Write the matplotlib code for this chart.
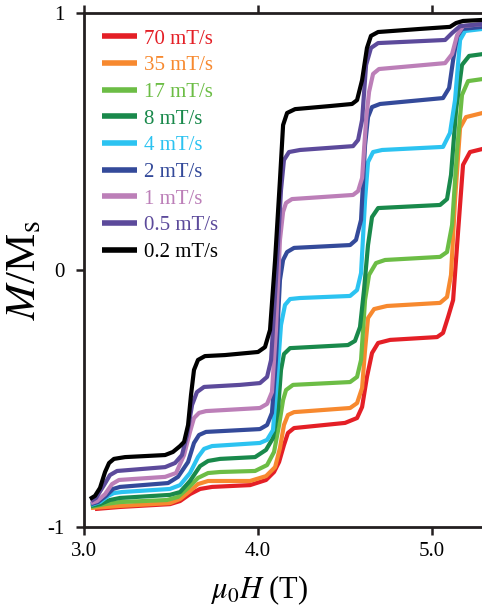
import numpy as np
import matplotlib
matplotlib.use('Agg')
import matplotlib.pyplot as plt

plt.rcParams['font.family'] = ['Liberation Serif', 'DejaVu Serif']
plt.rcParams['mathtext.fontset'] = 'stix'

# sweep rates (legend labels)
labels = ['70 mT/s', '35 mT/s', '17 mT/s', '8 mT/s', '4 mT/s',
          '2 mT/s', '1 mT/s', '0.5 mT/s', '0.2 mT/s']
colors = ['#e41f26', '#f7892f', '#6cbd45', '#19894b', '#2cc3f1',
          '#344a9a', '#bc7fb8', '#5c4a9b', '#000000']

# field (T) and M/Ms
h_70 = [3.063, 3.207, 3.494, 3.552, 3.609, 3.667, 3.736, 3.954, 4.046, 4.092, 4.121, 4.149,
        4.172, 4.207, 4.500, 4.569, 4.598, 4.626, 4.655, 4.690, 4.759, 5.029, 5.063, 5.092,
        5.121, 5.149, 5.178, 5.218, 5.29]
m_70 = [-0.930, -0.922, -0.911, -0.899, -0.872, -0.852, -0.844, -0.837, -0.817, -0.786, -0.747, -0.681,
        -0.634, -0.615, -0.595, -0.576, -0.533, -0.416, -0.323, -0.284, -0.272, -0.261, -0.245, -0.183,
        -0.117, 0.144, 0.409, 0.459, 0.471]

h_35 = [3.040, 3.207, 3.494, 3.552, 3.609, 3.655, 3.713, 3.954, 4.046, 4.098, 4.126, 4.149,
        4.172, 4.207, 4.529, 4.569, 4.598, 4.615, 4.632, 4.667, 4.741, 5.046, 5.086, 5.109,
        5.132, 5.161, 5.195, 5.29]
m_35 = [-0.926, -0.918, -0.907, -0.891, -0.860, -0.833, -0.821, -0.821, -0.802, -0.767, -0.693, -0.603,
        -0.564, -0.553, -0.537, -0.518, -0.459, -0.311, -0.187, -0.152, -0.140, -0.128, -0.105, -0.019,
        0.272, 0.553, 0.595, 0.611]

h_17 = [3.040, 3.121, 3.207, 3.477, 3.540, 3.598, 3.655, 3.713, 3.782, 3.983, 4.052, 4.092,
        4.121, 4.144, 4.161, 4.201, 4.529, 4.569, 4.592, 4.615, 4.638, 4.678, 4.730, 5.046,
        5.086, 5.115, 5.144, 5.172, 5.207, 5.29]
m_17 = [-0.922, -0.911, -0.903, -0.895, -0.883, -0.848, -0.809, -0.790, -0.786, -0.782, -0.759, -0.708,
        -0.603, -0.506, -0.467, -0.447, -0.436, -0.416, -0.350, -0.117, -0.019, 0.027, 0.039, 0.051,
        0.070, 0.175, 0.467, 0.681, 0.735, 0.743]

h_8 = [3.040, 3.092, 3.149, 3.207, 3.494, 3.552, 3.609, 3.667, 3.713, 3.782, 3.983, 4.046,
       4.086, 4.115, 4.132, 4.149, 4.184, 4.517, 4.557, 4.586, 4.609, 4.632, 4.655, 4.690,
       5.046, 5.086, 5.109, 5.138, 5.172, 5.213, 5.29]
m_8 = [-0.918, -0.911, -0.895, -0.887, -0.875, -0.864, -0.821, -0.763, -0.743, -0.735, -0.728, -0.700,
       -0.654, -0.545, -0.389, -0.327, -0.304, -0.292, -0.276, -0.222, -0.078, 0.097, 0.206, 0.241,
       0.253, 0.276, 0.370, 0.623, 0.798, 0.833, 0.840]

h_4 = [3.040, 3.092, 3.138, 3.172, 3.218, 3.494, 3.552, 3.609, 3.655, 3.690, 3.736, 4.011,
       4.052, 4.086, 4.109, 4.132, 4.155, 4.184, 4.241, 4.529, 4.569, 4.592, 4.615, 4.632,
       4.661, 4.713, 5.063, 5.103, 5.132, 5.161, 5.190, 5.29]
m_4 = [-0.914, -0.903, -0.879, -0.868, -0.864, -0.852, -0.837, -0.790, -0.728, -0.696, -0.685, -0.673,
       -0.661, -0.623, -0.428, -0.214, -0.136, -0.113, -0.109, -0.101, -0.078, -0.012, 0.272, 0.420,
       0.459, 0.467, 0.479, 0.533, 0.661, 0.895, 0.930, 0.938]

h_2 = [3.040, 3.080, 3.126, 3.167, 3.207, 3.483, 3.540, 3.598, 3.632, 3.661, 3.701, 4.011,
       4.052, 4.080, 4.103, 4.126, 4.144, 4.167, 4.207, 4.529, 4.563, 4.592, 4.615, 4.632,
       4.655, 4.701, 5.063, 5.098, 5.121, 5.144, 5.172, 5.29]
m_2 = [-0.911, -0.903, -0.879, -0.852, -0.844, -0.829, -0.805, -0.747, -0.673, -0.642, -0.630, -0.619,
       -0.603, -0.556, -0.350, -0.039, 0.039, 0.070, 0.086, 0.097, 0.117, 0.195, 0.486, 0.595,
       0.634, 0.646, 0.669, 0.708, 0.817, 0.907, 0.938, 0.946]

h_1 = [3.040, 3.075, 3.121, 3.161, 3.201, 3.466, 3.529, 3.575, 3.609, 3.632, 3.661, 3.701,
       4.011, 4.052, 4.080, 4.103, 4.126, 4.144, 4.161, 4.195, 4.546, 4.575, 4.598, 4.621,
       4.638, 4.661, 4.695, 5.075, 5.115, 5.144, 5.178, 5.29]
m_1 = [-0.907, -0.899, -0.872, -0.833, -0.817, -0.805, -0.790, -0.720, -0.630, -0.576, -0.556, -0.549,
       -0.537, -0.521, -0.475, -0.233, 0.117, 0.226, 0.261, 0.276, 0.292, 0.307, 0.358, 0.584,
       0.693, 0.763, 0.782, 0.805, 0.840, 0.914, 0.949, 0.957]

h_05 = [3.040, 3.069, 3.115, 3.149, 3.190, 3.466, 3.523, 3.563, 3.592, 3.621, 3.649, 3.690,
        3.897, 4.011, 4.052, 4.075, 4.103, 4.132, 4.149, 4.178, 4.241, 4.546, 4.575, 4.598,
        4.621, 4.649, 4.690, 5.075, 5.115, 5.161, 5.29]
m_05 = [-0.899, -0.887, -0.837, -0.798, -0.782, -0.767, -0.751, -0.720, -0.642, -0.525, -0.475, -0.455,
        -0.447, -0.440, -0.416, -0.350, -0.039, 0.311, 0.428, 0.459, 0.467, 0.482, 0.506, 0.584,
        0.798, 0.864, 0.883, 0.895, 0.922, 0.949, 0.957]

h_02 = [3.034, 3.063, 3.092, 3.121, 3.144, 3.172, 3.236, 3.466, 3.511, 3.552, 3.575, 3.598,
        3.615, 3.632, 3.655, 3.695, 3.810, 4.000, 4.040, 4.069, 4.098, 4.126, 4.144, 4.167,
        4.213, 4.414, 4.540, 4.569, 4.598, 4.626, 4.649, 4.690, 4.931, 5.103, 5.138, 5.178, 5.29]
m_02 = [-0.891, -0.879, -0.848, -0.786, -0.751, -0.735, -0.728, -0.720, -0.708, -0.685, -0.669, -0.603,
        -0.486, -0.389, -0.350, -0.335, -0.331, -0.319, -0.300, -0.233, 0.039, 0.350, 0.564, 0.611,
        0.626, 0.638, 0.646, 0.661, 0.739, 0.864, 0.911, 0.926, 0.938, 0.946, 0.961, 0.969, 0.973]

fields = [h_70, h_35, h_17, h_8, h_4, h_2, h_1, h_05, h_02]
moments = [m_70, m_35, m_17, m_8, m_4, m_2, m_1, m_05, m_02]

fig = plt.figure(figsize=(4.82, 6.10), dpi=100)
ax = fig.add_axes([84/482., 1 - 527/610., (482 - 84)/482., (527 - 13)/610.])

for i in range(len(labels)):
    ax.plot(fields[i], moments[i], color=colors[i], lw=3.0, label=labels[i],
            solid_capstyle='butt', solid_joinstyle='round')

ax.set_xlim(3.0, 5.287)
ax.set_ylim(-1, 1)
ax.set_xticks([3.0, 4.0, 5.0])
ax.set_xticklabels(['3.0', '4.0', '5.0'])
ax.set_yticks([-1, 0, 1])
ax.set_yticklabels(['-1', '0', '1'])

ax.spines['right'].set_visible(False)
for s in ['left', 'top', 'bottom']:
    ax.spines[s].set_linewidth(2.0)
    ax.spines[s].set_color('#231f20')
ax.tick_params(axis='both', direction='out', length=6, width=1.8,
               color='#231f20', labelsize=15, pad=4)
ax.tick_params(axis='x', top=True, pad=5)
ax.tick_params(axis='y', pad=8)

# x label sits under the 4.0 tick
ax.set_xlabel(r'$\mu_0H$ (T)', fontsize=22, labelpad=9, x=0.44)
ax.set_ylabel(r'$M$/M$_\mathrm{s}$', fontsize=31, labelpad=2)

leg = ax.legend(loc='upper left', bbox_to_anchor=(102/482., 1 - 29/610.),
                bbox_transform=fig.transFigure, frameon=False, fontsize=15,
                handlelength=1.7, handletextpad=0.3, labelspacing=0.34,
                borderpad=0, borderaxespad=0)
for line, text in zip(leg.get_lines(), leg.get_texts()):
    line.set_linewidth(4.0)
    text.set_color(line.get_color())

fig.savefig('out.png', dpi=100)
